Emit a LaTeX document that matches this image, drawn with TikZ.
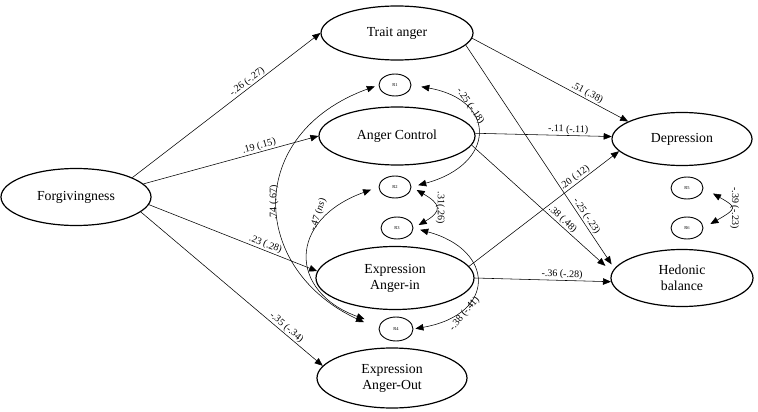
\documentclass[tikz,border=0pt]{standalone}
\usepackage{fontspec}
\setmainfont{Liberation Serif}
\usetikzlibrary{shapes.geometric,arrows.meta}

\begin{document}
\begin{tikzpicture} [x=1pt, y=1pt,
	latent/.style = {shape=ellipse, draw, line width=1.2pt, inner sep=0pt,
		align=center, font=\fontsize{13.8}{16}\selectfont},
	resid/.style = {shape=ellipse, draw, line width=0.9pt, inner sep=0pt,
		minimum width=32pt, minimum height=22pt, font=\fontsize{4.5}{5}\selectfont},
	effect/.style = {draw, line width=0.55pt, -{Triangle[length=8pt,width=6.5pt]}},
	corr/.style = {draw, line width=0.55pt,
		{Triangle[length=8pt,width=6.5pt]}-{Triangle[length=8pt,width=6.5pt]}},
	coef/.style = {font=\fontsize{10}{12}\selectfont, inner sep=1pt}]
	\useasboundingbox (0,0) rectangle (758,-412);
	
	% latent variables
	\node [latent, minimum width=150pt, minimum height=57pt] (forg) at (76,-197) {Forgivingness};
	\node [latent, minimum width=152pt, minimum height=54pt] (trait) at (397,-33) {Trait anger};
	\node [latent, minimum width=156pt, minimum height=58pt] (ctrl) at (397,-136) {Anger Control};
	\node [latent, minimum width=158pt, minimum height=63pt] (angin) at (395,-278) {Expression\\Anger-in};
	\node [latent, minimum width=150pt, minimum height=60pt] (angout) at (392,-378) {Expression\\Anger-Out};
	\node [latent, minimum width=140pt, minimum height=53pt] (depr) at (682,-139) {Depression};
	\node [latent, minimum width=142pt, minimum height=57pt] (hedon) at (682,-278) {Hedonic\\balance};
	
	% residuals
	\node [resid] (r1) at (395,-85) {R1};
	\node [resid] (r2) at (395,-187) {R2};
	\node [resid] (r3) at (397,-228) {R3};
	\node [resid, minimum width=34pt, minimum height=24pt] (r4) at (396,-329) {R4};
	\node [resid] (r5) at (687,-188) {R5};
	\node [resid] (r6) at (687,-228) {R6};
	
	% forgivingness -> anger
	\path [effect] (forg.19) -- (trait.west)
		node [coef, pos=0.63, sloped, above] {-.26 (-.27)};
	\path [effect] (forg.11) -- (ctrl.west)
		node [coef, pos=0.67, sloped, above] {.19 (.15)};
	\path [effect] (forg.-6) -- (angin.175)
		node [coef, pos=0.68, sloped, above] {.23 (.28)};
	\path [effect] (forg.-13) -- (angout.170)
		node [coef, pos=0.78, sloped, above] {-.35 (-.34)};
	
	% anger -> outcomes
	\path [effect] (trait.-4) -- (depr.162)
		node [coef, pos=0.72, sloped, above] {.51 (.38)};
	\path [effect, shorten >=5pt] (trait.-10) -- (hedon.172)
		node [coef, pos=0.78, sloped, above] {-.25 (-.23)};
	\path [effect] (ctrl.2) -- (depr.178)
		node [coef, pos=0.68, sloped, above] {-.11 (-.11)};
	\path [effect, shorten >=9pt] (ctrl.-7) -- (hedon.175)
		node [coef, pos=0.62, sloped, above] {.38 (.48)};
	\path [effect] (angin.9) -- (depr.191)
		node [coef, pos=0.73, sloped, above] {.20 (.12)};
	\path [effect] (angin.0) -- (hedon.183)
		node [coef, pos=0.64, sloped, above] {-.36 (-.28)};
	
	% residual covariances
	\path [corr, shorten <=4pt, shorten >=16pt] (r1.west) to [out=200, in=155, looseness=1.5]
		node [coef, pos=0.5, rotate=90, anchor=south] {.74 (.67)} (r4.west);
	\path [corr, shorten <=8pt, shorten >=16pt] (r2.west) to [out=200, in=160, looseness=1.8]
		node [coef, pos=0.25, rotate=72, anchor=south, inner sep=5pt] {-.47 (\textit{ns})} (r4.165);
	\path [corr, shorten <=10pt, shorten >=7pt] (r1.east) to [out=-10, in=15, looseness=2.2]
		node [coef, pos=0.3, rotate=-55, anchor=south] {-.25 (-.18)} (r2.east);
	\path [corr, shorten <=6pt, shorten >=6pt] (r2.east) to [out=-30, in=30, looseness=2.1]
		node [coef, pos=0.5, rotate=-90, anchor=south] {.31(.26)} (r3.east);
	\path [corr, shorten <=7pt, shorten >=2pt] (r3.east) to [out=-15, in=10, looseness=2.15]
		node [coef, pos=0.75, rotate=50, anchor=north] {-.38 (-.41)} (r4.east);
	\path [corr, shorten <=11pt, shorten >=8pt] (r5.east) to [out=-30, in=30, looseness=2.5]
		node [coef, pos=0.5, rotate=-90, anchor=south] {-.39 (-.23)} (r6.east);
	
\end{tikzpicture}
\end{document}
